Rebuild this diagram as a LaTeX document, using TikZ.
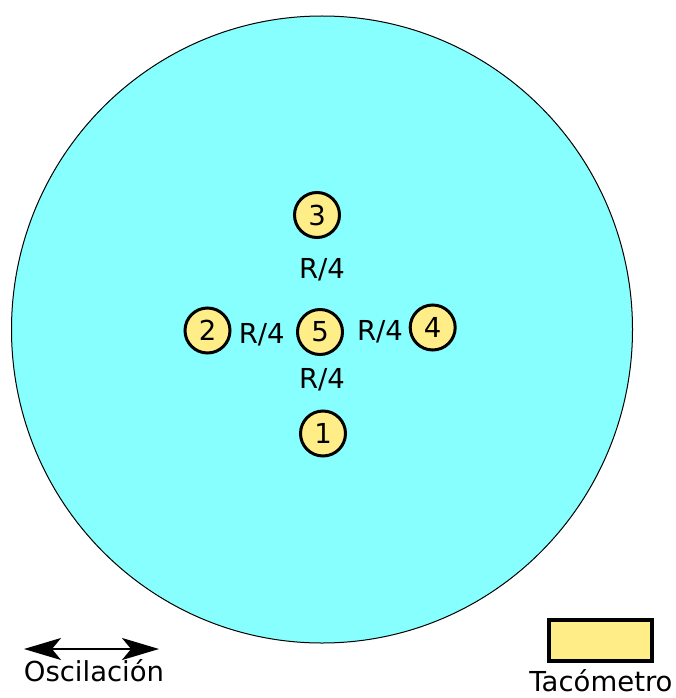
\documentclass[tikz,border=0pt]{standalone}
\usepackage{fontspec}
\setmainfont{DejaVu Sans}
\usetikzlibrary{arrows.meta,shapes.geometric}
\definecolor{disc}{HTML}{88FFFF}
\definecolor{yel}{HTML}{FFEE88}
\tikzset{
  pt/.style={circle, draw=black, fill=yel, line width=3pt, minimum size=45pt, inner sep=0pt, font=\fontsize{27.5}{32}\selectfont},
  lab/.style={font=\fontsize{27.5}{32}\selectfont, inner sep=0pt},
}
\begin{document}
\begin{tikzpicture}[x=1pt,y=-1pt]
\useasboundingbox (0,0) rectangle (676,698);
\node[ellipse, draw=black, fill=disc, line width=1pt, minimum width=621pt, minimum height=627pt, inner sep=0pt] (disk) at (322,329.5) {};
\node[pt] (p3) at (317,215) {3};
\node[pt] (p2) at (207.5,330.5) {2};
\node[pt] (p5) at (320,332) {5};
\node[pt] (p4) at (432.7,327.5) {4};
\node[pt] (p1) at (323,433.5) {1};
\node[lab] (r1) at (322,270) {R/4};
\node[lab] (r2) at (322,380) {R/4};
\node[lab] (r3) at (261.7,335) {R/4};
\node[lab] (r4) at (380,331.5) {R/4};
\coordinate (a1) at (24,649);
\coordinate (a2) at (159,649);
\draw[{Stealth[length=37pt,width=22pt,inset=9pt]}-{Stealth[length=37pt,width=22pt,inset=9pt]}, line width=2pt] (a1) -- (a2);
\node[lab, anchor=base] (osc) at (94,681.7) {Oscilación};
\node[draw=black, fill=yel, line width=4pt, minimum width=103pt, minimum height=41pt, inner sep=0pt] (tac) at (600,640.8) {};
\node[lab, anchor=base] (tact) at (601,691.5) {Tacómetro};
\end{tikzpicture}
\end{document}
